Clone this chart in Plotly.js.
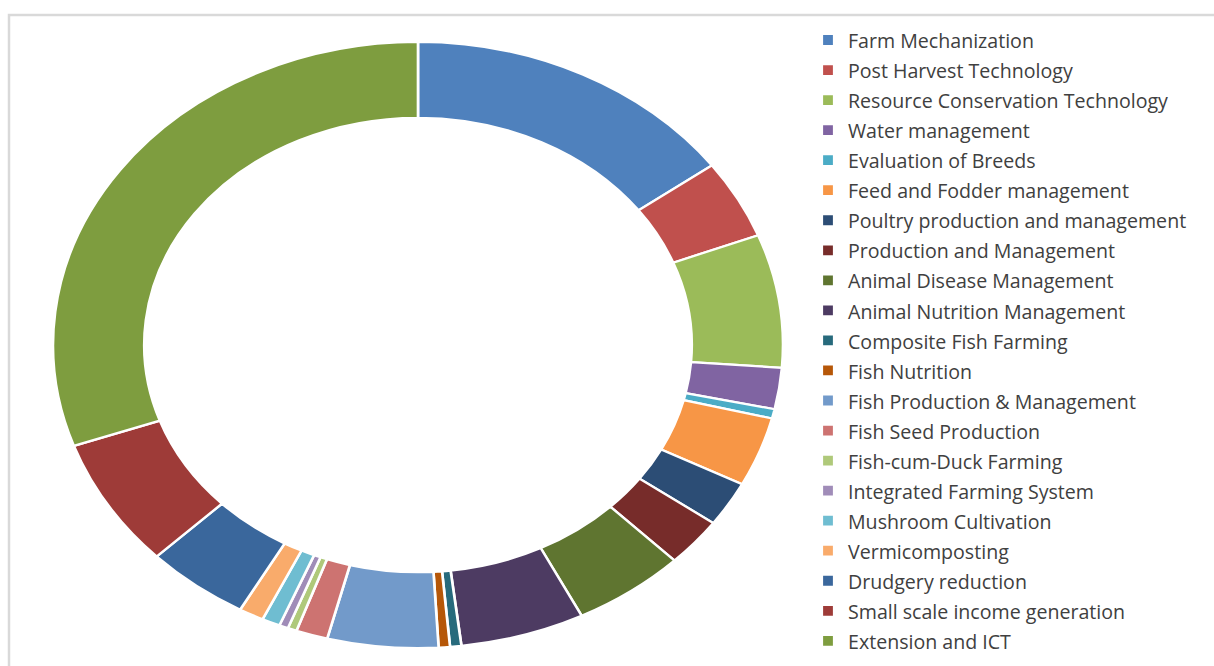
<!DOCTYPE html>
<html>
<head>
<meta charset="utf-8">
<script src="https://cdn.plot.ly/plotly-3.0.1.min.js"></script>
<style>
  html, body { margin: 0; padding: 0; background: #ffffff; }
  #chart { width: 1214px; height: 666px; }
</style>
</head>
<body>
<div id="chart"></div>
<script>
// Categories (legend order = slice order, clockwise from 12 o'clock)
const categories = [
  "Farm Mechanization",
  "Post Harvest Technology",
  "Resource Conservation Technology",
  "Water management",
  "Evaluation of Breeds",
  "Feed and Fodder management",
  "Poultry production and management",
  "Production and Management",
  "Animal Disease Management",
  "Animal Nutrition Management",
  "Composite Fish Farming",
  "Fish Nutrition",
  "Fish Production & Management",
  "Fish Seed Production",
  "Fish-cum-Duck Farming",
  "Integrated Farming System",
  "Mushroom Cultivation",
  "Vermicomposting",
  "Drudgery reduction",
  "Small scale income generation",
  "Extension and ICT"
];

// Share of each category (percent)
const shares = [
  14.9, 4.2, 7.1, 2.2, 0.5, 3.7, 2.4, 2.6, 5.0, 5.5,
  0.5, 0.5, 4.9, 1.4, 0.4, 0.4, 0.8, 1.1, 4.6, 6.9, 30.4
];

// Slice colours
const sliceColors = [
  "#4F81BD", "#C0504D", "#9BBB59", "#8064A2", "#4BACC6",
  "#F79646", "#2C4D75", "#772C2A", "#5F7530", "#4D3B62",
  "#276A7C", "#B65708", "#729ACA", "#CD7371", "#AFC97A",
  "#A08CB8", "#6FBDD1", "#F9AB6B", "#3A679C", "#9E3B38",
  "#7E9D3F"
];

const W = 1214, H = 666;
const cx = 418, cyTop = 345, ry = 303;

const legendLabels = categories.map(c => '<span style="font-size:19.6px">' + c + '</span>');

const trace = {
  type: "pie",
  labels: legendLabels,
  values: shares,
  sort: false,
  direction: "clockwise",
  rotation: 0,
  hole: 0.75,
  textinfo: "none",
  hoverinfo: "label+percent",
  marker: { colors: sliceColors, line: { color: "#ffffff", width: 2.2 } },
  domain: {
    x: [(cx - ry) / W, (cx + ry) / W],
    y: [(H - cyTop - ry) / H, (H - cyTop + ry) / H]
  }
};

const layout = {
  width: W,
  height: H,
  margin: { l: 0, r: 0, t: 0, b: 0 },
  paper_bgcolor: "#ffffff",
  showlegend: true,
  legend: {
    x: 808 / W,
    xanchor: "left",
    y: 1 - 20 / H,
    yanchor: "top",
    font: { family: "Open Sans, sans-serif", size: 20.8, color: "#404040" },
    bgcolor: "rgba(0,0,0,0)",
    itemwidth: 30
  },
  shapes: [
    {
      type: "rect", xref: "paper", yref: "paper",
      x0: 9 / W, x1: 1.05, y0: -0.05, y1: 1 - 15 / H,
      line: { color: "#d9d9d9", width: 2.5 }, fillcolor: "rgba(0,0,0,0)", layer: "below"
    }
  ]
};

Plotly.newPlot("chart", [trace], layout, { displayModeBar: false }).then(function (gd) {
  // stretch the donut horizontally, as in the reference (ellipse)
  const pl = gd.querySelector(".pielayer");
  if (pl) {
    const sx = 365 / 303;
    pl.setAttribute("transform", "translate(" + cx + ",0) scale(" + sx + ",1) translate(" + (-cx) + ",0)");
  }
});
</script>
</body>
</html>
